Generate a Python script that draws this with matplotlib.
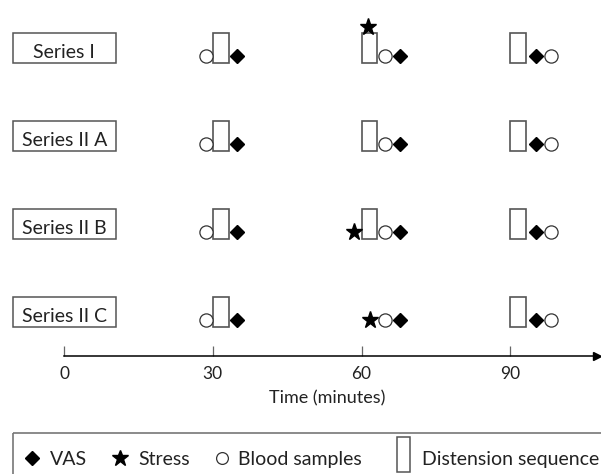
import matplotlib
matplotlib.use('Agg')
import matplotlib.pyplot as plt
from matplotlib.patches import Rectangle

plt.rcParams['font.family'] = ['Lato', 'DejaVu Sans']

# data (minutes)
rows = ['Series I', 'Series II A', 'Series II B', 'Series II C']
distension_starts = [[30, 60, 90], [30, 60, 90], [30, 60, 90], [30, 90]]
distension_len = 3.2
blood_times = [[28.6, 64.7, 98.2], [28.6, 64.7, 98.2], [28.6, 64.7, 98.2], [28.6, 64.7, 98.2]]
vas_times = [[34.8, 67.8, 95.1], [34.8, 67.8, 95.1], [34.8, 67.8, 95.1], [34.8, 67.8, 95.1]]
stress_times = [[61.2], [], [58.4], [61.7]]
xticks = [0, 30, 60, 90]
legend_labels = ['VAS', 'Stress', 'Blood samples', 'Distension sequence']

W, H = 601, 474
x0_px, px_per_min = 64, 4.96
axis_px, row0_px, row_px = 356, 48, 88

ink = '#222222'
edge = '#555555'

fig = plt.figure(figsize=(W / 100, H / 100), dpi=100)
ax = fig.add_axes([0, (H - axis_px) / H, 1, axis_px / H])
ax.set_xlim(-x0_px / px_per_min, (W - x0_px) / px_per_min)
ax.set_ylim((axis_px - row0_px) / row_px, -row0_px / row_px)

for s in ['top', 'left', 'right']:
    ax.spines[s].set_visible(False)
x_end = (W - 4 - x0_px) / px_per_min
ax.spines['bottom'].set_bounds(0, x_end)
ax.spines['bottom'].set_linewidth(1.1)
ax.spines['bottom'].set_color('black')
ax.plot([x_end], [ax.get_ylim()[0]], marker='>', ms=6, color='black', clip_on=False)
ax.set_yticks([])
ax.set_xticks(xticks)
ax.tick_params(axis='x', direction='in', length=7, width=0.9, color='#666666',
               pad=7, labelsize=12.5, labelcolor=ink)
ax.set_xlabel('Time (minutes)', fontsize=13, color=ink)
ax.xaxis.set_label_coords(327 / W, -34 / axis_px)

half_h = 15 / row_px
mark_dy = 8 / row_px
for i, name in enumerate(rows):
    ax.add_patch(Rectangle((-10.3, i - half_h), 20.8, 2 * half_h,
                           fill=False, edgecolor=edge, lw=1.1))
    ax.text(0.05, i + 10 / row_px, name, ha='center', va='baseline',
            fontsize=14, color=ink)
    for t in distension_starts[i]:
        ax.add_patch(Rectangle((t, i - half_h), distension_len, 2 * half_h,
                               facecolor='white', edgecolor=edge, lw=1.2, zorder=2))
    ax.plot(blood_times[i], [i + mark_dy] * len(blood_times[i]), 'o', ms=9.5,
            mfc='white', mec='#333333', mew=0.9, zorder=3)
    ax.plot(vas_times[i], [i + mark_dy] * len(vas_times[i]), 'D', ms=7.6,
            color='black', zorder=3)
    for t in stress_times[i]:
        # star sits on top of the distension bar when it falls inside one
        inside = any(s <= t <= s + distension_len for s in distension_starts[i])
        y = i - 21 / row_px if inside else i + mark_dy
        ax.plot([t], [y], '*', ms=12.5, color='black', zorder=3)

# legend strip along the bottom
lax = fig.add_axes([0, 0, 1, 1])
lax.set_xlim(0, W)
lax.set_ylim(H, 0)
lax.axis('off')
lax.add_patch(Rectangle((12.7, 433), 700, 100, fill=False, edgecolor='#777777', lw=1.2))
lax.plot([32], [457.5], 'D', ms=6.8, color='black')
lax.plot([120], [457.5], '*', ms=12, color='black')
lax.plot([222], [458], 'o', ms=8.5, mfc='white', mec='#333333', mew=0.9)
lax.add_patch(Rectangle((397, 437), 13, 35, fill=False, edgecolor=edge, lw=1.1))
for x, lab in zip([50, 138, 238, 422], legend_labels):
    lax.text(x, 465, lab, ha='left', va='baseline', fontsize=14, color=ink)

fig.savefig('out.png', dpi=100)
